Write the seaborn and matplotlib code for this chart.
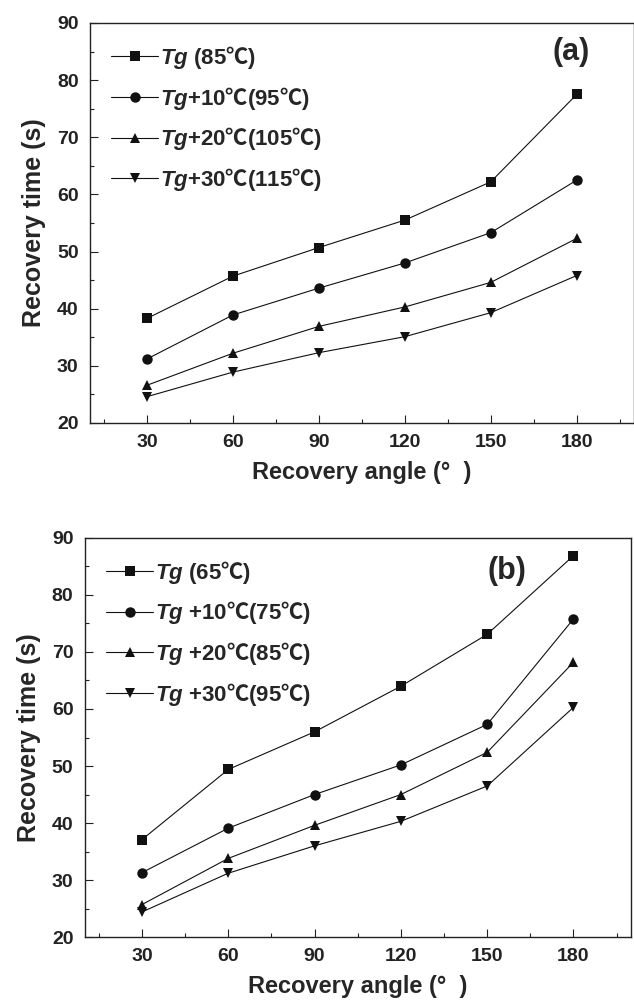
import numpy as np
import pandas as pd
import seaborn as sns
import matplotlib.pyplot as plt
from matplotlib.ticker import MultipleLocator

# data
angles = [30, 60, 90, 120, 150, 180]
markers = ["s", "o", "^", "v"]

C = r"$\mathrm{℃}$"
labels_a = [r"$\mathit{Tg}$ (85" + C + ")",
            r"$\mathit{Tg}$+10" + C + "(95" + C + ")",
            r"$\mathit{Tg}$+20" + C + "(105" + C + ")",
            r"$\mathit{Tg}$+30" + C + "(115" + C + ")"]
tg_a = [38.3, 45.7, 50.7, 55.5, 62.2, 77.5]
tg10_a = [31.2, 38.9, 43.6, 48.0, 53.3, 62.5]
tg20_a = [26.6, 32.2, 36.9, 40.3, 44.6, 52.3]
tg30_a = [24.6, 28.9, 32.3, 35.1, 39.3, 45.8]

labels_b = [r"$\mathit{Tg}$ (65" + C + ")",
            r"$\mathit{Tg}$ +10" + C + "(75" + C + ")",
            r"$\mathit{Tg}$ +20" + C + "(85" + C + ")",
            r"$\mathit{Tg}$ +30" + C + "(95" + C + ")"]
tg_b = [37.1, 49.4, 56.0, 64.0, 73.1, 86.9]
tg10_b = [31.3, 39.1, 45.0, 50.2, 57.3, 75.8]
tg20_b = [25.7, 33.8, 39.6, 45.0, 52.4, 68.2]
tg30_b = [24.4, 31.2, 36.0, 40.3, 46.5, 60.3]

sns.set_style("ticks")
plt.rcParams["font.family"] = ["Liberation Sans", "Noto Sans CJK SC", "DejaVu Sans"]
plt.rcParams["font.weight"] = "bold"
plt.rcParams["mathtext.fontset"] = "custom"
plt.rcParams["mathtext.it"] = "Liberation Sans:italic:bold"
plt.rcParams["mathtext.rm"] = "Noto Sans CJK SC"
plt.rcParams["mathtext.bf"] = "Liberation Sans:bold"


def draw_panel(ax, series, labels, tag, tag_xy):
    for vals, lab, m in zip(series, labels, markers):
        sns.lineplot(x=angles, y=vals, ax=ax, color="#111111", marker=m,
                     markersize=7.5 if m == "o" else 7, markeredgewidth=0,
                     markeredgecolor="#111111", linewidth=0.8, label=lab)
    ax.set_xlim(10, 200)
    ax.set_ylim(20, 90)
    ax.xaxis.set_major_locator(MultipleLocator(30))
    ax.xaxis.set_minor_locator(MultipleLocator(15))
    ax.yaxis.set_major_locator(MultipleLocator(10))
    ax.yaxis.set_minor_locator(MultipleLocator(5))
    ax.tick_params(which="both", direction="in", width=0.8, colors="#222222",
                   labelsize=14, top=False, right=False)
    ax.tick_params(which="major", length=5.5, pad=8)
    ax.tick_params(which="minor", length=3)
    for s in ax.spines.values():
        s.set_visible(True)
        s.set_linewidth(1.0)
        s.set_color("#222222")
    for t in ax.get_xticklabels() + ax.get_yticklabels():
        t.set_fontweight("bold")
    ax.set_ylabel("Recovery time (s)", fontsize=18, fontweight="bold", labelpad=8)
    ax.set_xlabel("Recovery angle (°  )", fontsize=17, fontweight="bold", labelpad=7)
    ax.text(tag_xy[0], tag_xy[1], tag, fontsize=22, fontweight="bold",
            ha="center", va="center")
    ax.legend(loc="upper left", bbox_to_anchor=(0.04, 0.948), frameon=False,
              borderpad=0, borderaxespad=0, handlelength=2.1, handletextpad=0.1,
              labelspacing=0.62,
              prop={"family": "Liberation Sans", "weight": "bold", "size": 16})


fig = plt.figure(figsize=(6.34, 10.08), dpi=100)
ax_a = fig.add_axes([0.1415, 0.5804, 0.8585, 0.3968])
ax_b = fig.add_axes([0.1333, 0.0704, 0.8620, 0.3959])

draw_panel(ax_a, [tg_a, tg10_a, tg20_a, tg30_a], labels_a, "(a)", (178, 84.9))
draw_panel(ax_b, [tg_b, tg10_b, tg20_b, tg30_b], labels_b, "(b)", (157, 84.2))

fig.savefig("out.png", dpi=100, facecolor="white")
